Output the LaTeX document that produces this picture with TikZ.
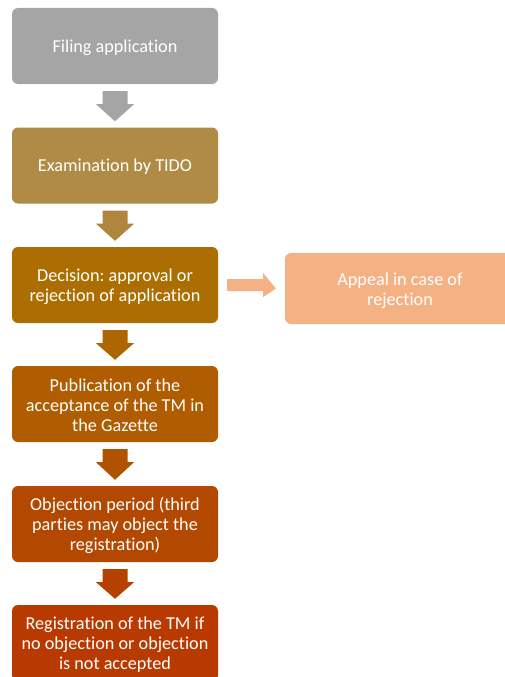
\documentclass[tikz,border=0pt]{standalone}
\usepackage{fontspec}
\setmainfont[Ligatures={NoCommon}]{Carlito}
\usetikzlibrary{calc}
\frenchspacing
\definecolor{cA}{HTML}{A5A5A5}
\definecolor{cB}{HTML}{B08B45}
\definecolor{cC}{HTML}{AC6E00}
\definecolor{cD}{HTML}{B05C00}
\definecolor{cE}{HTML}{B34800}
\definecolor{cF}{HTML}{B83A00}
\definecolor{cG}{HTML}{F4B183}
\definecolor{aB}{HTML}{B0853E}
\definecolor{aC}{HTML}{AE6600}
\definecolor{aD}{HTML}{B15200}
\definecolor{aE}{HTML}{B54000}
\tikzset{
  stepbox/.style={rectangle, rounded corners=6pt, minimum width=206pt, minimum height=76pt,
    text width=204pt, align=center, text=white, font=\fontsize{18.2}{20}\selectfont, inner sep=0pt},
  txt/.style={text=white, font=\fontsize{18.2}{20}\selectfont, align=center, inner sep=0pt},
}
\newcommand{\downarr}[3]{%
  \fill[#3] ($(#1.south)+(-12.5pt,-7pt)$) -- ($(#1.south)+(12.5pt,-7pt)$) -- ($(#1.south)+(12.5pt,-20pt)$)
   -- ($(#1.south)+(19pt,-20pt)$) -- ($(#2.north)+(0,6pt)$) -- ($(#1.south)+(-19pt,-20pt)$)
   -- ($(#1.south)+(-12.5pt,-20pt)$) -- cycle;}
\begin{document}
\begin{tikzpicture}[x=1pt,y=-1pt]
\useasboundingbox (0,0) rectangle (505,677);
\begin{scope}
\clip (0,0) rectangle (505,677);
\node[stepbox, fill=cA] (b1) at (115,46) {};
\node[stepbox, fill=cB] (b2) at (115,165.5) {};
\node[stepbox, fill=cC] (b3) at (115,285) {};
\node[stepbox, fill=cD] (b4) at (115,404) {};
\node[stepbox, fill=cE] (b5) at (115,524) {};
\node[stepbox, fill=cF] (b6) at (115,643) {};
\node[stepbox, fill=cG, minimum width=240pt, minimum height=71pt] (ap) at (405,288.5) {};
\node[txt] (t1) at (115,47.5) {Filing application};
\node[txt] (t2) at (115,167) {Examination by TIDO};
\node[txt] (t3) at (115,286.5) {Decision: approval or\\rejection of application};
\node[txt] (t4) at (115,405.5) {Publication of the\\acceptance of the TM in\\the Gazette};
\node[txt] (t5) at (115,525.5) {Objection period (third\\parties may object the\\registration)};
\node[txt] (t6) at (115,644.5) {Registration of the TM if\\no objection or objection\\is not accepted};
\node[txt] (apt) at (400,291) {Appeal in case of\\rejection};
\downarr{b1}{b2}{cA}
\downarr{b2}{b3}{aB}
\downarr{b3}{b4}{aC}
\downarr{b4}{b5}{aD}
\downarr{b5}{b6}{aE}
\fill[cG] ($(b3.east)+(9pt,-6pt)$) -- ($(b3.east)+(45pt,-6pt)$) -- ($(b3.east)+(45pt,-12pt)$)
  -- ($(ap.west)+(-9pt,0)$) -- ($(b3.east)+(45pt,12pt)$) -- ($(b3.east)+(45pt,6pt)$)
  -- ($(b3.east)+(9pt,6pt)$) -- cycle;
\end{scope}
\end{tikzpicture}
\end{document}
